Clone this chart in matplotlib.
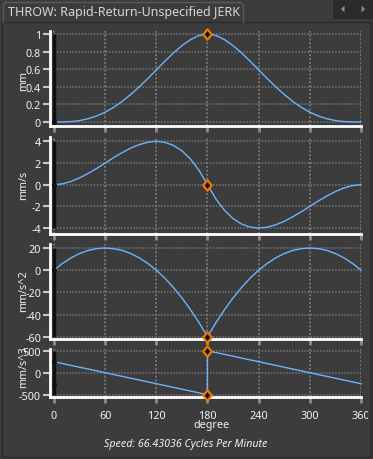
import matplotlib
matplotlib.use('Agg')
import matplotlib.pyplot as plt
from matplotlib.patches import Rectangle, Polygon
from matplotlib.lines import Line2D
from matplotlib.path import Path

plt.rcParams['font.family'] = ['Noto Sans', 'DejaVu Sans']
plt.rcParams['axes.unicode_minus'] = False

# ---------------- data ----------------
degrees = [0, 10, 20, 30, 40, 50, 60, 70, 80, 90, 100, 110, 120, 130, 140, 150, 160, 170,
           180, 190, 200, 210, 220, 230, 240, 250, 260, 270, 280, 290, 300, 310, 320, 330,
           340, 350, 360]
displacement = [0, 0.001, 0.005, 0.016, 0.037, 0.068, 0.111, 0.167, 0.234, 0.313, 0.400,
                0.494, 0.593, 0.691, 0.784, 0.868, 0.936, 0.983, 1.0, 0.983, 0.936, 0.868,
                0.784, 0.691, 0.593, 0.494, 0.400, 0.313, 0.234, 0.167, 0.111, 0.068, 0.037,
                0.016, 0.005, 0.001, 0]
velocity = [0, 0.08, 0.30, 0.63, 1.04, 1.50, 2.00, 2.50, 2.96, 3.38, 3.70, 3.92, 4.00, 3.91,
            3.63, 3.13, 2.37, 1.33, 0, -1.33, -2.37, -3.13, -3.63, -3.91, -4.00, -3.92,
            -3.70, -3.38, -2.96, -2.50, -2.00, -1.50, -1.04, -0.63, -0.30, -0.08, 0]
acceleration = [0, 6.1, 11.1, 15.0, 17.8, 19.4, 20.0, 19.4, 17.8, 15.0, 11.1, 6.1, 0, -7.2,
                -15.6, -25.0, -35.6, -47.2, -60, -47.2, -35.6, -25.0, -15.6, -7.2, 0, 6.1,
                11.1, 15.0, 17.8, 19.4, 20.0, 19.4, 17.8, 15.0, 11.1, 6.1, 0]
jerk_degrees = [0, 180, 180, 360]
jerk = [250, -500, 500, -250]

cursor_deg = 180
disp_marks = [1.0]
vel_marks = [0]
acc_marks = [-60]
jerk_marks = [500, -500]

x_ticks = [0, 60, 120, 180, 240, 300, 360]
x_ticklabels = ['0', '60', '120', '180', '240', '300', '360']
disp_ticks = [0, 0.2, 0.4, 0.6, 0.8, 1]
disp_ticklabels = ['0', '0.2', '0.4', '0.6', '0.8', '1']
vel_ticks = [-4, -2, 0, 2, 4]
vel_ticklabels = ['-4', '-2', '0', '2', '4']
acc_ticks = [-60, -40, -20, 0, 20]
acc_ticklabels = ['-60', '-40', '-20', '0', '20']
jerk_ticks = [-500, 0, 500]
jerk_ticklabels = ['-500', '0', '500']

title = 'THROW: Rapid-Return-Unspecified JERK'
xlabel = 'degree'
speed_text = 'Speed: 66.43036 Cycles Per Minute'

# ---------------- style ----------------
W, H = 373, 460
BG = '#3c3c3c'
LINE = '#6cb4ff'
GRID = '#767676'
ORANGE = '#f07800'
TXT = '#f2f2f2'

fig = plt.figure(figsize=(W / 100, H / 100), dpi=100, facecolor=BG)


def fx(px):
    return px / W


def fy(py):
    return 1 - py / H


# panel frame
fig.add_artist(Rectangle((fx(2), fy(458)), fx(371) - fx(2), fy(23) - fy(458),
                         transform=fig.transFigure, facecolor='none',
                         edgecolor='#2a2a2a', lw=1, zorder=0))
# tab outline
for xs, ys in [([3, 3], [23, 6]), ([6, 240], [3, 3]), ([243, 243], [6, 23]),
               ([3, 6], [6, 3]), ([240, 243], [3, 6])]:
    fig.add_artist(Line2D([fx(v) for v in xs], [fy(v) for v in ys],
                          transform=fig.transFigure, color='#5a5a5a', lw=1))
fig.text(fx(8), fy(12.5), title, color='#d6d6d6', fontsize=9.0, ha='left', va='center')
# nav box
fig.add_artist(Rectangle((fx(333), fy(20)), fx(373) - fx(333), fy(1) - fy(20),
                         transform=fig.transFigure, facecolor='#2b2b2b',
                         edgecolor='none', zorder=1))
fig.add_artist(Polygon([(fx(341), fy(10)), (fx(344.5), fy(6.5)), (fx(344.5), fy(13.5))],
                       closed=True, transform=fig.transFigure, facecolor='#8a8a8a',
                       edgecolor='none', zorder=2))
fig.add_artist(Polygon([(fx(365), fy(10)), (fx(361.5), fy(6.5)), (fx(361.5), fy(13.5))],
                       closed=True, transform=fig.transFigure, facecolor='#8a8a8a',
                       edgecolor='none', zorder=2))

diamond = Path([(0, 1), (0.8, 0), (0, -1), (-0.8, 0), (0, 1)],
               [Path.MOVETO, Path.LINETO, Path.LINETO, Path.LINETO, Path.CLOSEPOLY])

panels = [
    dict(top=32, bot=127, ylim=(-0.0455, 1.034), xs=degrees, ys=displacement,
         ticks=disp_ticks, labels=disp_ticklabels, marks=disp_marks, ylab='mm', labc=81),
    dict(top=138, bot=235, ylim=(-4.55, 4.40), xs=degrees, ys=velocity,
         ticks=vel_ticks, labels=vel_ticklabels, marks=vel_marks, ylab='mm/s', labc=185),
    dict(top=245, bot=340, ylim=(-62.1, 23.6), xs=degrees, ys=acceleration,
         ticks=acc_ticks, labels=acc_ticklabels, marks=acc_marks, ylab='mm/s^2', labc=291),
    dict(top=350, bot=398, ylim=(-552, 539), xs=jerk_degrees, ys=jerk,
         ticks=jerk_ticks, labels=jerk_ticklabels, marks=jerk_marks, ylab='mm/s^3', labc=367),
]

XL = -360 * 4 / 307
for i, p in enumerate(panels):
    ax = fig.add_axes([fx(50), fy(p['bot']), fx(361) - fx(50), (p['bot'] - p['top']) / H])
    ax.set_facecolor('none')
    ax.set_xlim(XL, 360)
    ax.set_ylim(*p['ylim'])
    # grid
    ax.vlines(x_ticks, p['ylim'][0], p['ylim'][1], colors=GRID, lw=1.4,
              linestyles=[(0, (1, 1))], zorder=1)
    ax.hlines(p['ticks'], 0, 360, colors=GRID, lw=1.1,
              linestyles=[(0, (1, 1))], zorder=1)
    # cursor at start
    ax.vlines(0, min(p['ys']), max(p['ys']), colors='#101010', lw=2.4, zorder=2)
    ax.plot(p['xs'], p['ys'], color=LINE, lw=1, zorder=3, clip_on=False)
    ax.plot([p['xs'][0], p['xs'][-1] * 0], [p['ys'][0], p['ys'][-1]], ls='none',
            marker='o', ms=2.5, color='#101010', zorder=4, clip_on=False)
    ax.plot([cursor_deg] * len(p['marks']), p['marks'], ls='none', marker=diamond,
            ms=7.5, mfc='#101010', mec=ORANGE, mew=1.6, zorder=5, clip_on=False)
    # spines
    for s in ('top', 'right'):
        ax.spines[s].set_visible(False)
    for s in ('left', 'bottom'):
        ax.spines[s].set_color('white')
        ax.spines[s].set_linewidth(2)
    ax.set_yticks(p['ticks'])
    ax.set_yticklabels(p['labels'])
    ax.set_xticks(x_ticks)
    if i == len(panels) - 1:
        ax.set_xticklabels(x_ticklabels)
    else:
        ax.set_xticklabels([])
    ax.tick_params(axis='y', direction='out', length=5, width=1.5, color='#c8c8c8',
                   labelcolor=TXT, labelsize=7.8, pad=1.5)
    ax.tick_params(axis='x', direction='out', length=4.5, width=2, color='#8c8c8c',
                   labelcolor=TXT, labelsize=7.8, pad=5)
    fig.text(fx(24), fy(p['labc']), p['ylab'], rotation=90, ha='center', va='center',
             color=TXT, fontsize=7.8)

fig.text(fx(211), fy(426), xlabel, color=TXT, fontsize=7.8, ha='center', va='center')
fig.text(fx(186), fy(445), speed_text, color=TXT, fontsize=7.7, style='italic',
         ha='center', va='center')

# clip of the last tick label at the panel edge
fig.add_artist(Rectangle((fx(368), fy(422)), fx(371) - fx(368), fy(403) - fy(422),
                         transform=fig.transFigure, facecolor=BG, edgecolor='none',
                         zorder=20))
fig.add_artist(Line2D([fx(371), fx(371)], [fy(23), fy(458)], transform=fig.transFigure,
                      color='#2a2a2a', lw=1, zorder=21))

fig.savefig('out.png', dpi=100, facecolor=BG)
